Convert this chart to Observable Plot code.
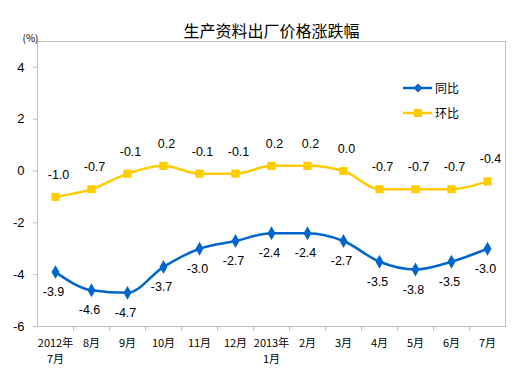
<!DOCTYPE html>
<html><head><meta charset="utf-8">
<script src="https://cdn.jsdelivr.net/npm/d3@7"></script>
<script src="https://cdn.jsdelivr.net/npm/@observablehq/plot@0.6"></script>
<style>
body{margin:0;background:#fff;}
#wrap{position:relative;width:515px;height:386px;}
#legend{position:absolute;left:403px;top:75px;font:12px "Noto Sans CJK SC",sans-serif;color:#000;}
#legend .row{display:flex;align-items:center;height:25px;}
#legend svg{margin-right:2px;}
</style>
</head><body>
<div id="wrap"><div id="legend"></div></div>
<script>
const categories = ["2012年\n7月","8月","9月","10月","11月","12月","2013年\n1月","2月","3月","4月","5月","6月","7月"];
const yoy = [-3.9,-4.6,-4.7,-3.7,-3.0,-2.7,-2.4,-2.4,-2.7,-3.5,-3.8,-3.5,-3.0];
const mom = [-1.0,-0.7,-0.1,0.2,-0.1,-0.1,0.2,0.2,0.0,-0.7,-0.7,-0.7,-0.4];
const yTicks = [-6,-4,-2,0,2,4];
const seriesNames = ["同比","环比"];
const colors = ["#0066CC","#FFCC00"];
const title = "生产资料出厂价格涨跌幅";
const unit = "(%)";

const W = 515, H = 386, mL = 37, mR = 10, mT = 41, mB = 60;
const half = (W - mL - mR) / categories.length / 2;

const dYoy = categories.map((c,i)=>({x:c, y:yoy[i]}));
const dMom = categories.map((c,i)=>({x:c, y:mom[i]}));
const fmt = v => v.toFixed(1);

const chart = Plot.plot({
  width: W, height: H,
  marginLeft: mL, marginRight: mR, marginTop: mT, marginBottom: mB,
  style: {fontFamily: "'Liberation Sans', Arial, sans-serif", background: "#fff", overflow: "visible"},
  x: {type: "point", domain: categories, padding: 0.5, label: null},
  y: {domain: [-6, 5], label: null},
  marks: [
    Plot.frame({stroke: "#BFBFBF"}),
    Plot.axisY({ticks: yTicks, tickSize: 4, tickPadding: 9, stroke: "#BFBFBF", fill: "#000", fontSize: 13, tickFormat: d => String(d), label: null}),
    Plot.axisX(categories.slice(0, -1), {tickSize: 5, dx: half, text: null, stroke: "#BFBFBF", label: null}),
    Plot.axisX({tickSize: 0, tickPadding: 9, fontSize: 11, lineHeight: 1.45, fill: "#000", fontFamily: "'Noto Sans CJK SC', sans-serif", label: null}),
    Plot.line(dYoy, {x: "x", y: "y", stroke: colors[0], strokeWidth: 2.5, curve: "monotone-x"}),
    Plot.dot(dYoy, {x: "x", y: "y", symbol: "diamond", r: 4.2, fill: colors[0], stroke: "none"}),
    Plot.line(dMom, {x: "x", y: "y", stroke: colors[1], strokeWidth: 2.5, curve: "monotone-x"}),
    Plot.dot(dMom, {x: "x", y: "y", symbol: "square", r: 4.6, fill: colors[1], stroke: "none"}),
    Plot.text(dYoy, {x: "x", y: "y", text: d => fmt(d.y), dy: 20, dx: -2, fontSize: 12.5, fill: "#000"}),
    Plot.text(dMom, {x: "x", y: "y", text: d => fmt(d.y), dy: -22, dx: 3, fontSize: 12.5, fill: "#000"}),
    Plot.text([title], {frameAnchor: "top", dy: -16, fontSize: 16, fontWeight: 400, fill: "#000", fontFamily: "'Noto Sans CJK SC', sans-serif"}),
    Plot.text([unit], {frameAnchor: "top-left", dx: -15, dy: -7, fontSize: 10, fill: "#000", fontFamily: "'Noto Sans CJK SC', sans-serif"})
  ]
});
document.getElementById("wrap").prepend(chart);

const legend = document.getElementById("legend");
seriesNames.forEach((name, i) => {
  const row = document.createElement("div");
  row.className = "row";
  const marker = i === 0
    ? `<path d="M15,2.5 L19.5,7 L15,11.5 L10.5,7 Z" fill="${colors[0]}"/>`
    : `<rect x="11" y="3" width="8" height="8" fill="${colors[1]}"/>`;
  row.innerHTML = `<svg width="30" height="14"><line x1="0" y1="7" x2="29" y2="7" stroke="${colors[i]}" stroke-width="2.5"/>${marker}</svg><span>${name}</span>`;
  legend.appendChild(row);
});
</script>
</body></html>
